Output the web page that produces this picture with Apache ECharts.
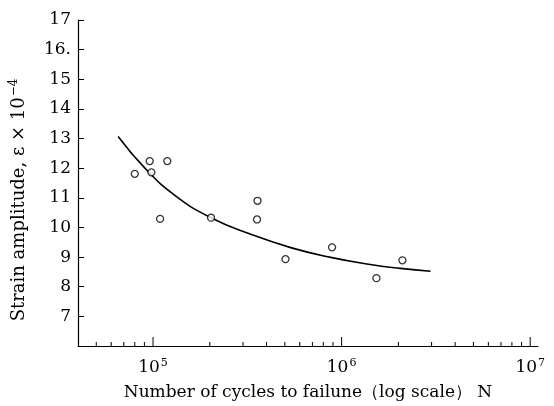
<!DOCTYPE html>
<html>
<head>
<meta charset="utf-8">
<script src="https://cdn.jsdelivr.net/npm/echarts@6/dist/echarts.min.js"></script>
<style>
  html, body { margin: 0; padding: 0; background: #fff; }
  #chart { width: 554px; height: 406px; }
</style>
</head>
<body>
<div id="chart"></div>
<script>
// 试验点 (N, 应变幅)
var testCycles = [8.0e4, 9.6e4, 9.8e4, 1.19e5, 1.09e5, 2.03e5, 3.58e5, 3.56e5, 5.04e5, 8.9e5, 1.53e6, 2.1e6];
var testStrain = [11.81, 12.24, 11.86, 12.24, 10.29, 10.33, 10.9, 10.27, 8.93, 9.33, 8.29, 8.89];

// 拟合曲线
var curveCycles = [6.53e4, 9.18e4, 1.32e5, 2.03e5, 3.30e5, 5.37e5, 8.75e5, 1.42e6, 2.05e6, 2.96e6];
var curveStrain = [13.07, 11.96, 11.06, 10.33, 9.77, 9.32, 8.99, 8.75, 8.62, 8.52];

// 坐标轴刻度
var majorTicks = [1e5, 1e6, 1e7];
var minorTicks = [5e4, 6e4, 7e4, 8e4, 9e4,
                  2e5, 3e5, 4e5, 5e5, 6e5, 7e5, 8e5, 9e5,
                  2e6, 3e6, 4e6, 5e6, 6e6, 7e6, 8e6, 9e6];
var yTickValues = [7, 8, 9, 10, 11, 12, 13, 14, 15, 16, 17];
var yTickLabels = ['7', '8', '9', '10', '11', '12', '13', '14', '15', '16.', '17'];

var chart = echarts.init(document.getElementById('chart'));

var serif = 'DejaVu Serif';

var option = {
    backgroundColor: '#fff',
    animation: false,
    grid: { left: 77, right: 16, top: 20, bottom: 57 },
    xAxis: {
        type: 'log',
        logBase: 10,
        min: 4e4,
        max: 1.1e7,
        name: 'Number of cycles to failune（log scale） N',
        nameLocation: 'middle',
        nameGap: 38,
        nameTextStyle: { fontFamily: serif, fontSize: 17, color: '#000' },
        axisLine: { lineStyle: { color: '#000', width: 1.2 } },
        axisTick: { show: false },
        splitLine: { show: false },
        axisLabel: {
            margin: 12,
            formatter: function (v) {
                var p = Math.log10(v);
                if (Math.abs(p - Math.round(p)) > 1e-6) return '';
                return '{b|10}{s|' + Math.round(p) + '}';
            },
            rich: {
                b: { fontFamily: serif, fontSize: 17, color: '#000' },
                s: { fontFamily: serif, fontSize: 11, color: '#000', padding: [0, 0, 9, 1] }
            }
        }
    },
    yAxis: {
        type: 'value',
        min: 6,
        max: 17,
        interval: 1,
        name: 'Strain amplitude, ε × 10{s|−4}',
        nameLocation: 'middle',
        nameRotate: 90,
        nameGap: 48,
        nameTextStyle: {
            fontFamily: serif, fontSize: 18, color: '#000',
            padding: [0, 34, 0, 0],
            rich: {
                s: { fontFamily: serif, fontSize: 12, color: '#000', padding: [0, 0, 10, 1] }
            }
        },
        axisLine: { show: true, lineStyle: { color: '#000', width: 1.2 } },
        axisTick: { inside: true, length: 6, lineStyle: { color: '#000' } },
        splitLine: { show: false },
        axisLabel: {
            margin: 7,
            fontFamily: serif,
            fontSize: 17,
            color: '#000',
            formatter: function (v) {
                var i = yTickValues.indexOf(v);
                return i < 0 ? '' : yTickLabels[i];
            }
        }
    },
    series: [
        {
            type: 'custom',
            silent: true,
            clip: false,
            data: majorTicks.concat(minorTicks).map(function (v) { return [v, 6]; }),
            renderItem: function (params, api) {
                var v = api.value(0);
                var p = api.coord([v, 6]);
                var len = majorTicks.indexOf(v) >= 0 ? 9 : 4;
                return {
                    type: 'line',
                    shape: { x1: p[0], y1: p[1], x2: p[0], y2: p[1] - len },
                    style: { stroke: '#000', lineWidth: 1 }
                };
            }
        },
        {
            type: 'line',
            smooth: 0.5,
            symbol: 'none',
            lineStyle: { color: '#000', width: 1.6 },
            data: curveCycles.map(function (x, i) { return [x, curveStrain[i]]; }),
            z: 2
        },
        {
            type: 'scatter',
            symbol: 'circle',
            symbolSize: 7,
            itemStyle: { color: '#fff', borderColor: '#000', borderWidth: 1.3 },
            data: testCycles.map(function (x, i) { return [x, testStrain[i]]; }),
            z: 3
        }
    ]
};

chart.setOption(option);
</script>
</body>
</html>
